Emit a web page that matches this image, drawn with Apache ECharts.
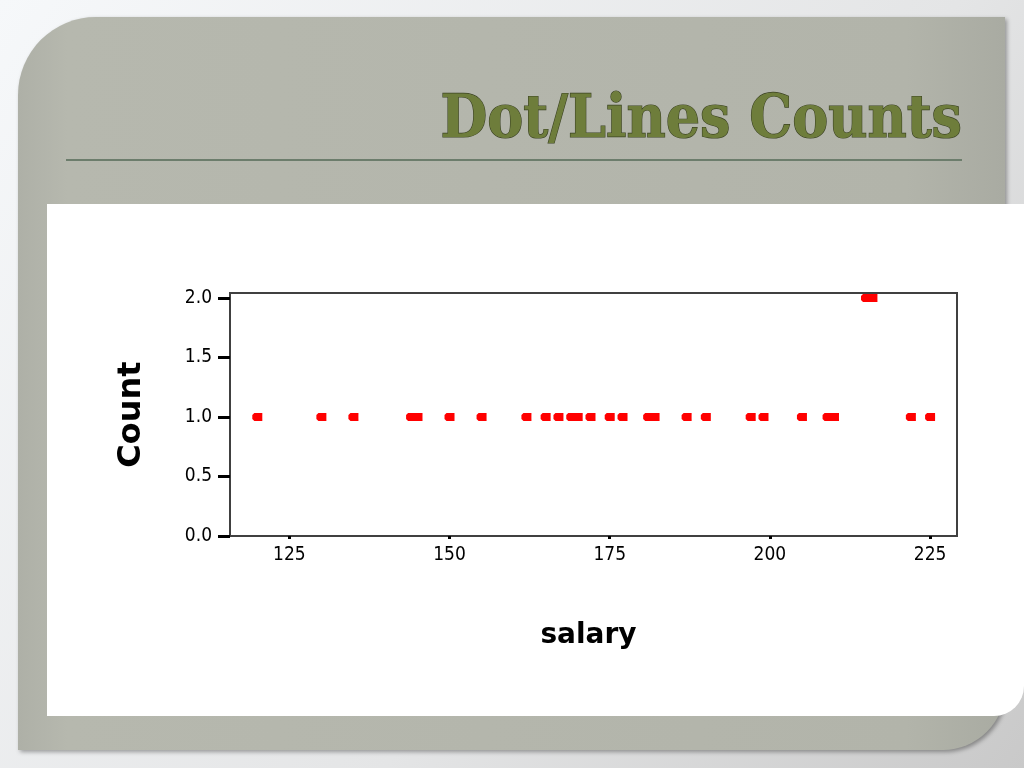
<!DOCTYPE html>
<html>
<head>
<meta charset="utf-8">
<script src="https://cdn.jsdelivr.net/npm/echarts@6/dist/echarts.min.js"></script>
<style>html,body{margin:0;padding:0;}#c{width:1024px;height:768px;}</style>
</head>
<body>
<div id="c"></div>
<script>
// salary values (x) and their counts (y)
const salary = [120, 130, 135, 144, 145, 150, 155, 162, 165, 167, 169, 170, 172, 175, 177, 181, 182, 187, 190, 197, 199, 205, 209, 210, 215, 216, 222, 225];
const counts = [1, 1, 1, 1, 1, 1, 1, 1, 1, 1, 1, 1, 1, 1, 1, 1, 1, 1, 1, 1, 1, 1, 1, 1, 2, 2, 1, 1];
const xTicks = [125, 150, 175, 200, 225];
const yTicks = [0, 0.5, 1, 1.5, 2];
const titleText = 'Dot/Lines Counts';
const xName = 'salary';
const yName = 'Count';

const points = salary.map((s, i) => [s, counts[i]]);
const chart = echarts.init(document.getElementById('c'), null, {renderer: 'canvas'});
const labelFont = "'DejaVu Sans Condensed', 'DejaVu Sans', sans-serif";

chart.setOption({
  animation: false,
  backgroundColor: {
    type: 'linear', x: 0, y: 0, x2: 1, y2: 1,
    colorStops: [{offset: 0, color: '#f6f8fa'}, {offset: 0.6, color: '#e4e5e6'}, {offset: 1, color: '#c9c9c9'}]
  },
  graphic: [
    {
      type: 'rect', z: -10, silent: true,
      shape: {x: 18, y: 17, width: 987, height: 733, r: [78, 0, 62, 0]},
      style: {
        fill: {type: 'linear', x: 0, y: 0, x2: 1, y2: 0,
          colorStops: [{offset: 0, color: '#aeb0a7'}, {offset: 0.05, color: '#b6b8ae'}, {offset: 0.9, color: '#b2b4aa'}, {offset: 1, color: '#a9aba2'}]},
        shadowBlur: 4, shadowColor: 'rgba(0,0,0,0.35)', shadowOffsetX: 2, shadowOffsetY: 2
      }
    },
    {
      type: 'rect', z: -9, silent: true,
      shape: {x: 66, y: 159, width: 896, height: 2},
      style: {fill: '#6c7d6c'}
    },
    {
      type: 'rect', z: -8, silent: true,
      shape: {x: 47, y: 204, width: 977, height: 512, r: [0, 0, 30, 0]},
      style: {fill: '#ffffff'}
    },
    {
      type: 'text', z: 5, silent: true,
      style: {
        text: titleText, x: 962, y: 151, align: 'right', verticalAlign: 'bottom',
        font: "bold 60px 'DejaVu Serif Condensed', 'DejaVu Serif', serif",
        fill: '#6e7d3b', stroke: '#3c4324', lineWidth: 1.2,
        shadowColor: 'rgba(30,30,20,0.6)', shadowBlur: 2, shadowOffsetX: 2, shadowOffsetY: 2
      }
    }
  ],
  grid: {left: 230, top: 293, width: 727, height: 243, show: true, borderColor: '#404040', borderWidth: 2, backgroundColor: 'transparent'},
  xAxis: {
    type: 'value', min: 115.74, max: 229.2,
    name: xName, nameLocation: 'middle', nameGap: 86,
    nameTextStyle: {fontFamily: "'DejaVu Sans', sans-serif", fontWeight: 'bold', fontSize: 28, color: '#000', padding: [0, 10, 0, 0]},
    axisLine: {show: true, lineStyle: {color: '#404040', width: 2}},
    axisTick: {show: true, inside: false, length: 3, customValues: xTicks, lineStyle: {color: '#000', width: 3}},
    axisLabel: {show: true, customValues: xTicks, margin: 10, fontFamily: labelFont, fontSize: 19, color: '#000'},
    splitLine: {show: false}
  },
  yAxis: {
    type: 'value', min: 0, max: 2.042,
    name: yName, nameLocation: 'middle', nameRotate: 90, nameGap: 82,
    nameTextStyle: {fontFamily: "'DejaVu Sans', sans-serif", fontWeight: 'bold', fontSize: 32, color: '#000'},
    axisLine: {show: true, lineStyle: {color: '#404040', width: 2}},
    axisTick: {show: true, inside: false, length: 12, customValues: yTicks, lineStyle: {color: '#000', width: 3}},
    axisLabel: {show: true, customValues: yTicks, margin: 18, fontFamily: labelFont, fontSize: 19, color: '#000',
      formatter: v => Number(v).toFixed(1)},
    splitLine: {show: false}
  },
  series: [{
    type: 'scatter',
    data: points,
    symbol: 'path://M2,0 L10,0 L10,8 L2,8 L0,6 L0,2 Z',
    symbolSize: [10, 8],
    itemStyle: {color: '#ff0000', opacity: 1},
    clip: false
  }]
});
</script>
</body>
</html>
